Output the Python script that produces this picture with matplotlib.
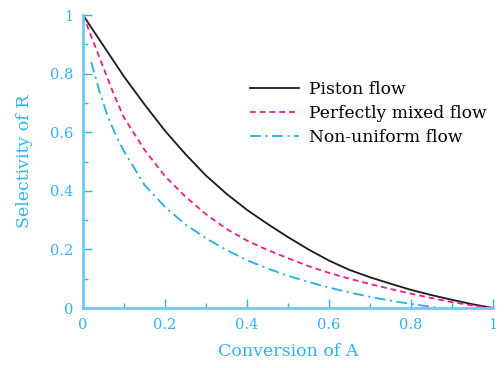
import matplotlib
matplotlib.use("Agg")
import matplotlib.pyplot as plt
from matplotlib.ticker import MultipleLocator, FuncFormatter

# Conversion of A (x) and selectivity of R (y) for each flow model
conv_piston = [0.0, 0.05, 0.1, 0.15, 0.2, 0.25, 0.3, 0.35, 0.4, 0.45, 0.5,
               0.55, 0.6, 0.65, 0.7, 0.75, 0.8, 0.85, 0.9, 0.95, 1.0]
sel_piston = [1.0, 0.895, 0.79, 0.695, 0.605, 0.525, 0.452, 0.39, 0.335, 0.287, 0.242,
              0.2, 0.162, 0.13, 0.105, 0.083, 0.062, 0.044, 0.028, 0.013, 0.0]

conv_mixed = [0.0, 0.025, 0.05, 0.075, 0.1, 0.15, 0.2, 0.25, 0.3, 0.35, 0.4,
              0.45, 0.5, 0.55, 0.6, 0.65, 0.7, 0.75, 0.8, 0.85, 0.9, 0.95, 1.0]
sel_mixed = [1.0, 0.91, 0.82, 0.73, 0.65, 0.54, 0.45, 0.38, 0.32, 0.27, 0.23,
             0.198, 0.17, 0.143, 0.12, 0.10, 0.082, 0.065, 0.049, 0.034, 0.02, 0.009, 0.0]

conv_nonuni = [0.02, 0.04, 0.06, 0.08, 0.1, 0.15, 0.2, 0.25, 0.3, 0.35, 0.4, 0.45,
               0.5, 0.55, 0.6, 0.65, 0.7, 0.75, 0.8, 0.85, 0.87]
sel_nonuni = [0.84, 0.74, 0.655, 0.59, 0.535, 0.42, 0.345, 0.285, 0.238, 0.198, 0.163,
              0.135, 0.11, 0.089, 0.07, 0.053, 0.038, 0.025, 0.014, 0.004, 0.0]

series_labels = ["Piston flow", "Perfectly mixed flow", "Non-uniform flow"]

axis_blue = "#6dcbf2"
text_blue = "#2eb4ec"
serif = ["DejaVu Serif"]

fig = plt.figure(figsize=(5.04, 3.68), dpi=100)
ax = fig.add_axes([0.1647, 0.163, 0.8135, 0.796])

ax.plot(conv_piston, sel_piston, color="#1a1a1a", lw=1.3, label=series_labels[0])
ax.plot(conv_mixed, sel_mixed, color="#ec1c86", lw=1.3, dashes=(3.2, 2.2),
        label=series_labels[1])
ax.plot(conv_nonuni, sel_nonuni, color="#1fb0e6", lw=1.3,
        dashes=(6, 2.5, 1.2, 2.5), label=series_labels[2])

ax.set_xlim(0, 1)
ax.set_ylim(0, 1)
for side in ("top", "right"):
    ax.spines[side].set_visible(False)
for side in ("left", "bottom"):
    ax.spines[side].set_color(axis_blue)
    ax.spines[side].set_linewidth(2)

ax.xaxis.set_major_locator(MultipleLocator(0.2))
ax.xaxis.set_minor_locator(MultipleLocator(0.1))
ax.yaxis.set_major_locator(MultipleLocator(0.2))
ax.yaxis.set_minor_locator(MultipleLocator(0.1))
fmt = FuncFormatter(lambda v, p: "%g" % round(v, 2))
ax.xaxis.set_major_formatter(fmt)
ax.yaxis.set_major_formatter(fmt)
ax.tick_params(which="major", direction="in", length=6.5, width=1.0,
               color=text_blue, labelcolor=text_blue, labelsize=10.5, pad=7)
ax.tick_params(which="minor", direction="in", length=3.6, width=1.0, color=text_blue)
for lab in ax.get_xticklabels() + ax.get_yticklabels():
    lab.set_fontfamily(serif)

ax.set_xlabel("Conversion of A", color=text_blue, fontsize=12.5,
              family=serif, labelpad=8)
ax.set_ylabel("Selectivity of R", color=text_blue, fontsize=12.5,
              family=serif, labelpad=12)

leg = ax.legend(loc="upper left", bbox_to_anchor=(0.39, 0.80), frameon=False,
                prop={"family": serif, "size": 12.3}, handlelength=2.9,
                handletextpad=0.55, labelspacing=0.42, borderaxespad=0)

fig.savefig("out.png", dpi=100)
